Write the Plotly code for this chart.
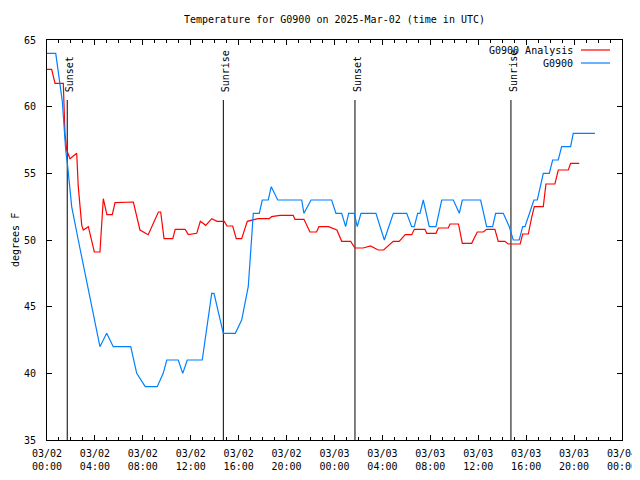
import pandas as pd
import plotly.graph_objects as go

BASE = pd.Timestamp("2025-03-02 00:00")

# G0900 observations (hours after 03/02 00:00 UTC, degrees F)
obs_hours = [0, 0.73, 1.28, 1.56, 1.73, 2.06, 2.61, 3.17, 3.73, 4.42, 4.98, 5.53, 6.99, 7.49, 8.2,
             9.2, 9.7, 10.0, 10.96, 11.33, 11.71, 12.96, 13.75, 13.94, 14.72, 15.72, 16.25, 16.8,
             17.09, 17.22, 17.72, 17.97, 18.47, 18.72, 19.26, 21.26, 21.45, 22.04, 23.76, 24.12,
             24.6, 24.93, 25.18, 25.65, 25.9, 26.21, 27.46, 28.16, 28.91, 30.03, 30.44, 30.66,
             30.94, 31.14, 31.41, 31.91, 32.47, 32.95, 33.92, 34.42, 34.67, 36.2, 36.7, 37.2,
             37.45, 38.09, 38.59, 38.92, 39.42, 39.71, 39.9, 40.26, 40.65, 40.93, 41.43, 41.93,
             42.21, 42.68, 42.96, 43.71, 43.93, 45.74]
obs_temp = [64, 64, 60.4, 56.75, 55.5, 52.5, 50, 47.5, 45, 42, 43, 42, 42, 40, 39,
            39, 40, 41, 41, 40, 41, 41, 46, 46, 43, 43, 44, 46.5,
            50.25, 52, 52, 53, 53, 54, 53, 53, 52, 53, 53, 52,
            52, 51, 52, 52, 51, 52, 52, 50, 52, 52, 51, 51,
            52, 52, 53, 51, 51, 53, 53, 52, 53, 53, 51, 51,
            52, 52, 51, 50, 50, 51, 51, 52, 53, 53, 55, 55,
            56, 56, 57, 57, 58, 58]

# G0900 Analysis
ana_hours = [0, 0.39, 0.67, 1.36, 1.5, 1.64, 1.92, 2.48, 2.61, 2.9, 3.03, 3.45, 3.95, 4.42, 4.7,
             5.0, 5.45, 5.68, 7.21, 7.76, 8.45, 9.3, 9.49, 9.77, 10.5, 10.7, 11.53, 11.8, 12.5,
             12.8, 13.25, 13.75, 14.2, 14.8, 15.02, 15.5, 15.8, 16.25, 16.72, 17.22, 17.6, 18.55,
             18.75, 19.45, 20.55, 20.7, 21.45, 21.95, 22.5, 22.7, 23.5, 24.2, 24.6, 25.35, 25.7,
             26.4, 27.0, 27.65, 28.1, 28.9, 29.4, 29.9, 30.45, 30.66, 31.55, 31.7, 32.47, 32.67,
             33.5, 33.64, 34.35, 34.67, 35.45, 35.92, 36.42, 36.7, 37.39, 37.67, 38.22, 38.5,
             39.5, 39.71, 40.18, 40.46, 40.68, 41.43, 41.65, 42.4, 42.68, 43.52, 43.71, 44.43]
ana_temp = [62.8, 62.8, 61.75, 61.75, 58, 56.75, 56.1, 56.5, 54, 51.1, 50.75, 51, 49.1, 49.1, 53.1,
            51.9, 51.9, 52.8, 52.85, 50.75, 50.4, 52.1, 52.1, 50.1, 50.1, 50.8, 50.8, 50.4, 50.5,
            51.4, 51.1, 51.6, 51.4, 51.4, 51.05, 51.05, 50.1, 50.1, 51.4, 51.5, 51.6, 51.6,
            51.75, 51.85, 51.85, 51.55, 51.55, 50.6, 50.6, 51, 51, 50.75, 49.9, 49.9, 49.4,
            49.4, 49.55, 49.25, 49.25, 49.9, 49.9, 50.4, 50.4, 50.8, 50.8, 50.5, 50.5, 50.9,
            50.9, 51.2, 51.2, 49.75, 49.75, 50.6, 50.6, 50.8, 50.8, 49.9, 49.9, 49.7,
            49.7, 50.45, 50.45, 51.7, 52.5, 52.5, 54.2, 54.2, 55.25, 55.25, 55.75, 55.75]

# Sun events
event_hours = [1.69, 14.72, 25.71, 38.73]
event_labels = ["Sunset", "Sunrise", "Sunset", "Sunrise"]
event_top = 60.5

series_names = ["G0900 Analysis", "G0900"]
series_colors = ["#ff0000", "#0080ff"]


def to_time(hours):
    return [BASE + pd.Timedelta(hours=h) for h in hours]


FONT = "DejaVu Sans Mono"
# page body has an 8px margin; the plot area is placed so it lands at x 47..622, y 40..440
OFF = 8
W, H = 640, 480
PL, PR, PT, PB = 47 - OFF, 622 - OFF, 40 - OFF, 440 - OFF
PW, PH = PR - PL, PB - PT

fig = go.Figure()

y_min, y_max = 35, 65
for h in event_hours:
    t = to_time([h])[0]
    fig.add_trace(go.Scatter(x=[t, t], y=[event_top, y_min], mode="lines",
                             line=dict(color="black", width=1), showlegend=False, hoverinfo="skip"))

fig.add_trace(go.Scatter(x=to_time(ana_hours), y=ana_temp, mode="lines", name=series_names[0],
                         line=dict(color=series_colors[0], width=1.2), showlegend=False))
fig.add_trace(go.Scatter(x=to_time(obs_hours), y=obs_temp, mode="lines", name=series_names[1],
                         line=dict(color=series_colors[1], width=1.2), showlegend=False))

for h, lab in zip(event_hours, event_labels):
    fig.add_annotation(x=to_time([h])[0], y=event_top, text=lab, textangle=-90, showarrow=False,
                       xanchor="center", yanchor="bottom", xshift=2, yshift=6,
                       font=dict(family=FONT, size=10, color="black"))

# manual legend (text right-aligned, sample to the right)
legend_rows_px = [50, 63]
for name, color, ypx in zip(series_names, series_colors, legend_rows_px):
    yp = (PB - (ypx - OFF)) / PH
    fig.add_annotation(xref="paper", yref="paper", x=(575 - OFF - PL) / PW, y=yp, text=name,
                       showarrow=False, xanchor="right", yanchor="middle",
                       font=dict(family=FONT, size=10, color="black"))
    fig.add_shape(type="line", xref="paper", yref="paper", x0=(581 - OFF - PL) / PW,
                  x1=(610 - OFF - PL) / PW, y0=yp, y1=yp, line=dict(color=color, width=1.2))

fig.add_annotation(xref="paper", yref="paper", x=(15 - OFF - PL) / PW, y=0.5, text="degrees F",
                   textangle=-90, showarrow=False, xanchor="center", yanchor="middle",
                   font=dict(family=FONT, size=10, color="black"))

fig.update_layout(
    width=W, height=H,
    margin=dict(l=PL, r=W - PR, t=PT, b=H - PB, autoexpand=False),
    paper_bgcolor="white", plot_bgcolor="white",
    font=dict(family=FONT, size=10, color="black"),
    title=dict(text="Temperature for G0900 on 2025-Mar-02 (time in UTC)",
               x=((PL + PR) / 2) / W, xanchor="center", y=1 - (19 - OFF) / H, yanchor="middle",
               font=dict(family=FONT, size=10, color="black")),
    showlegend=False,
)
fig.update_xaxes(type="date", range=[BASE, BASE + pd.Timedelta(hours=48)],
                 tick0=BASE, dtick=4 * 3600 * 1000, tickformat="%m/%d<br>%H:%M",
                 ticks="inside", ticklen=5, tickcolor="black", mirror="ticks",
                 showline=True, linecolor="black", linewidth=1, showgrid=False, zeroline=False,
                 minor=dict(dtick=3600 * 1000, ticks="inside", ticklen=3, tickcolor="black", showgrid=False),
                 tickfont=dict(family=FONT, size=10), automargin=False, ticklabelstandoff=4)
fig.update_yaxes(range=[y_min, y_max], dtick=5, ticks="inside", ticklen=5, tickcolor="black",
                 mirror="ticks", showline=True, linecolor="black", linewidth=1, showgrid=False,
                 zeroline=False, tickfont=dict(family=FONT, size=10), automargin=False,
                 ticklabelstandoff=8)

fig.write_html("out.html")
